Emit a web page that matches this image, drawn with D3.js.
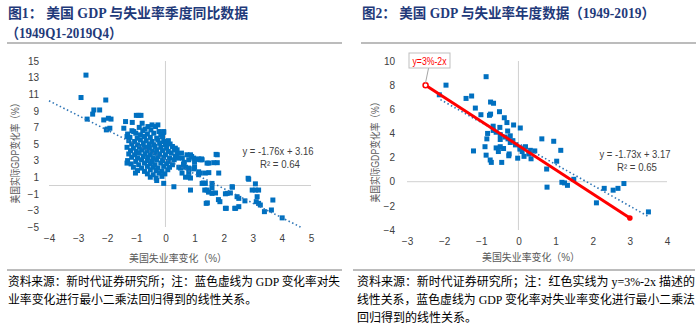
<!DOCTYPE html>
<html><head><meta charset="utf-8">
<script src="https://cdn.jsdelivr.net/npm/d3@7/dist/d3.min.js"></script>
<style>
html,body{margin:0;padding:0;background:#fff;}
svg{display:block;}
</style></head>
<body>
<svg id="c" width="700" height="331"></svg>
<script>
// ---------- DATA ----------
const title1Line1 = "图1：  美国 GDP 与失业率季度同比数据";
const title1Line2 = "（1949Q1-2019Q4）";
const title2 = "图2：  美国 GDP 与失业率年度数据（1949-2019）";
const yTitle = "美国实际GDP变化率（%）";
const xTitle = "美国失业率变化（%）";
const note1 = ["资料来源：新时代证券研究所；注：蓝色虚线为 GDP 变化率对失", "业率变化进行最小二乘法回归得到的线性关系。"];
const note2 = ["资料来源：新时代证券研究所；注：红色实线为 y=3%-2x 描述的", "线性关系，蓝色虚线为 GDP 变化率对失业率变化进行最小二乘法", "回归得到的线性关系。"];

const xTicks1 = [-4,-3,-2,-1,0,1,2,3,4,5];
const yTicks1 = [-5,-3,-1,1,3,5,7,9,11,13,15];
const xTicks2 = [-3,-2,-1,0,1,2,3,4];
const yTicks2 = [-4,-2,0,2,4,6,8,10];

const fit1 = {slope:-1.76, intercept:3.16, r2:0.64, x0:-4, x1:4.64};
const fit2 = {slope:-1.73, intercept:3.17, r2:0.65, x0:-2.1, x1:3.5};
const redLine = {x0:-2.5, x1:3};   // y = 3 - 2x
const redLabel = "y=3%-2x";

// Quarterly points [unemployment change, GDP change]
const quarterly = [
[-2.73,13.3],[-2.9,10.6],[-2.05,10.3],[-2.46,9.1],[-2.26,9.1],[-2.5,8.6],[-2.69,8.0],[-2.12,7.9],[-1.87,8.0],[-1.96,8.1],
[-2.03,6.7],[-1.91,6.9],[-2.0,6.8],[-1.0,8.45],[-0.84,8.45],[-0.92,8.45],[-1.14,7.6],[-0.8,7.5],[-1.37,7.7],[-1.43,6.9],
[-1.09,6.5],[-1.32,5.9],[-0.46,7.3],[-0.26,7.3],[-0.06,6.4],[-0.06,6.5],[0.06,5.1],
[-0.9,7.0],[-0.6,7.1],[-0.34,7.1],[-0.7,6.8],
[-1.15,6.6],[-0.78,6.6],[-0.5,6.7],[-0.22,6.5],
[-1.3,6.2],[-1.02,6.3],[-0.86,6.1],[-0.62,6.2],[-0.4,6.3],[-0.16,6.1],
[-1.22,5.8],[-0.97,5.7],[-0.72,5.9],[-0.52,5.8],[-0.3,5.7],[-0.1,5.9],
[-1.26,5.4],[-1.06,5.3],[-0.86,5.5],[-0.66,5.4],[-0.46,5.3],[-0.26,5.5],[-0.06,5.3],[0.1,5.4],
[-1.16,5.0],[-0.96,4.9],[-0.76,5.1],[-0.56,5.0],[-0.4,4.9],[-0.2,5.1],[0.0,4.9],[0.16,5.0],
[-1.32,4.6],[-1.1,4.5],[-0.9,4.7],[-0.72,4.6],[-0.55,4.5],[-0.36,4.7],[-0.16,4.6],[0.04,4.5],[0.24,4.7],
[-1.2,4.2],[-1.0,4.1],[-0.82,4.3],[-0.64,4.2],[-0.46,4.1],[-0.3,4.3],[-0.1,4.2],[0.1,4.1],[0.3,4.3],
[-1.26,3.8],[-1.06,3.7],[-0.9,3.9],[-0.7,3.8],[-0.52,3.7],[-0.36,3.9],[-0.2,3.8],[0.0,3.7],[0.2,3.9],[0.4,3.8],
[-1.16,3.4],[-0.96,3.3],[-0.76,3.5],[-0.6,3.4],[-0.42,3.3],[-0.26,3.5],[-0.06,3.4],[0.14,3.3],[0.34,3.5],
[-1.3,3.0],[-1.02,2.9],[-0.82,3.1],[-0.62,3.0],[-0.46,2.9],[-0.3,3.1],[-0.1,3.0],[0.1,2.9],[0.3,3.1],
[-1.32,2.7],[-1.18,2.6],[-0.92,2.5],[-0.72,2.7],[-0.52,2.6],[-0.36,2.5],[-0.16,2.7],[0.04,2.6],[0.24,2.5],
[-1.1,2.2],[-0.82,2.1],[-0.62,2.3],[-0.42,2.2],[-0.26,2.1],[-0.06,2.3],[0.14,2.2],
[-0.96,1.8],[-0.72,1.7],[-0.52,1.9],[-0.32,1.8],[-0.12,1.7],[0.08,1.9],
[-1.03,1.5],[-0.62,1.4],[-0.42,1.3],[-0.22,1.5],[-0.02,1.4],
[-0.52,1.0],[-0.32,0.9],[-0.12,1.1],
[-0.06,0.26],[0.29,-0.15],[-0.3,0.6],
[0.34,4.5],[0.4,4.3],[0.58,3.3],[0.74,3.7],[0.86,3.7],[0.8,3.1],[0.52,2.1],[0.46,2.2],[0.69,2.2],[0.57,1.5],[0.8,1.6],
[0.69,1.0],[0.86,0.9],[0.8,1.06],[0.8,2.1],[0.97,2.0],[0.97,3.3],[1.26,3.1],[1.2,1.5],[1.14,1.3],[1.37,1.5],[1.14,1.65],[1.49,1.55],[1.83,1.5],
[1.3,0.3],[1.26,0.25],[1.37,0.25],[1.6,0.25],[0.86,-0.55],[1.35,-0.55],[1.44,-2.1],[1.48,-0.8],[1.6,-0.3],[1.72,-0.9],[1.6,-0.95],
[1.43,-0.55],[1.82,-1.7],[1.87,-1.95],[2.06,-1.0],[2.23,-0.9],[2.12,-0.95],[2.3,-0.2],[2.29,-0.15],[1.4,-2.15],[2.06,-2.75],
[2.38,-2.75],[2.52,-2.55],[2.41,-2.75],[2.09,-2.75],[2.46,-1.35],[2.52,-1.55],[2.73,-1.85],[2.84,0.87],[2.86,0.75],[3.09,0.2],
[2.98,-0.55],[3.09,-0.55],[3.2,-0.55],[3.15,-1.35],[3.12,-1.95],[3.2,-2.15],[3.26,-2.35],[3.69,-1.75],[3.64,-2.95],[4.01,-3.9],[3.4,-3.15],
[1.78,3.7],[1.74,3.75],[1.78,2.75],[1.66,2.75],[1.49,2.7],[1.43,2.7],[1.2,3.1],[1.17,3.15],[1.24,3.2],[1.13,3.2],
[0.9,3.5],[1.0,2.8],[1.0,2.2],[0.65,2.8],[0.45,3.3],[0.55,3.9],[0.62,2.6]
];

// Annual points [unemployment change, GDP change]
const annual = [
[-1.95,8.0],[-0.87,8.7],[-2.13,7.2],[-1.41,6.9],[-1.26,7.1],[-1.16,6.1],[-0.75,6.6],[-0.67,6.5],[-1.01,5.55],[-0.78,5.5],
[-0.75,5.6],[-0.51,5.8],[-0.38,5.3],[-0.31,4.9],[-0.13,4.7],[0.05,4.45],[-0.68,4.6],[-0.5,4.5],[-0.29,4.2],[-0.83,4.0],
[-0.68,4.25],[-0.49,3.9],[-0.22,3.8],[-0.85,3.55],[-0.49,3.5],[-0.28,3.55],[-0.22,3.25],[-0.08,3.05],[0.05,2.8],[0.19,2.9],
[0.32,2.6],[0.44,2.55],[-0.9,2.9],[-0.6,2.8],[-0.49,2.9],[-0.54,2.5],[-1.21,2.55],[-0.87,2.2],[-0.76,1.8],[-0.73,1.6],
[-0.45,1.6],[-0.26,2.15],[-0.25,2.3],[-0.02,1.95],[0.15,2.1],[0.34,1.9],[0.04,2.7],[0.63,3.55],[0.95,3.35],[1.14,2.6],
[1.03,1.7],[0.76,1.05],[0.77,-0.45],[1.17,-0.05],[1.24,-0.1],[1.32,-0.3],[1.49,0.2],[2.1,-1.75],[2.31,-0.55],[2.55,-0.7],
[2.68,-0.55],[2.84,-0.15],[3.5,-2.5],[-0.36,3.7],[-0.6,4.1],[0.1,2.5],[-0.15,3.4],[-0.4,2.75],[0.28,2.3]
];

// ---------- DRAW ----------
const svg = d3.select("#c");
const NAVY = "#1f3a7a", GRAY_LINE = "#a6a6a6", AX = "#d0d0d0", PT = "#0070c0", TXT = "#404040";
const serif = "'Liberation Serif','Noto Sans CJK SC',serif";
const sans = "'Liberation Sans','Noto Sans CJK SC',sans-serif";

function txt(x, y, s, opt) {
  const t = svg.append("text").attr("x", x).attr("y", y).text(s)
    .attr("font-family", opt.family || serif).attr("font-size", opt.size || 12)
    .attr("fill", opt.fill || "#000").attr("dominant-baseline", "central");
  if (opt.weight) t.attr("font-weight", opt.weight);
  if (opt.anchor) t.attr("text-anchor", opt.anchor);
  if (opt.len) t.attr("textLength", opt.len).attr("lengthAdjust", "spacingAndGlyphs");
  return t;
}

// titles
txt(8, 13, title1Line1, {size:14, weight:"bold", fill:NAVY, len:240});
txt(6, 33, title1Line2, {size:14, weight:"bold", fill:NAVY, len:116});
txt(362, 13, title2, {size:14, weight:"bold", fill:NAVY, len:293});
svg.append("line").attr("x1",7).attr("x2",342).attr("y1",43).attr("y2",43).attr("stroke",GRAY_LINE).attr("stroke-width",1.5);
svg.append("line").attr("x1",361).attr("x2",696).attr("y1",43).attr("y2",43).attr("stroke",GRAY_LINE).attr("stroke-width",1.5);
svg.append("line").attr("x1",7).attr("x2",342).attr("y1",270).attr("y2",270).attr("stroke",GRAY_LINE).attr("stroke-width",1.5);
svg.append("line").attr("x1",353).attr("x2",695).attr("y1",270).attr("y2",270).attr("stroke",GRAY_LINE).attr("stroke-width",1.5);

// footnotes
txt(8, 282, note1[0], {size:12, len:332});
txt(8, 300, note1[1], {size:12, len:249});
txt(357, 282, note2[0], {size:12, len:338});
txt(357, 300, note2[1], {size:12, len:338});
txt(357, 318, note2[2], {size:12, len:120});

function panel(cfg) {
  const x = d3.scaleLinear().domain(cfg.xd).range(cfg.xr);
  const y = d3.scaleLinear().domain(cfg.yd).range(cfg.yr);
  const g = svg.append("g");
  // zero lines
  g.append("line").attr("x1", x(cfg.xd[0])).attr("x2", x(cfg.xd[1])).attr("y1", y(0)).attr("y2", y(0)).attr("stroke", AX).attr("stroke-width", 1);
  g.append("line").attr("x1", x(0)).attr("x2", x(0)).attr("y1", y(cfg.yd[0])).attr("y2", y(cfg.yd[1])).attr("stroke", AX).attr("stroke-width", 1);
  // axes
  const ax = g.append("g").attr("transform", `translate(0,${y(cfg.yd[0])})`)
    .call(d3.axisBottom(x).tickValues(cfg.xt).tickSize(0).tickPadding(cfg.xpad).tickFormat(d3.format("d")));
  const ay = g.append("g").attr("transform", `translate(${x(cfg.xd[0])},0)`)
    .call(d3.axisLeft(y).tickValues(cfg.yt).tickSize(0).tickPadding(cfg.ypad).tickFormat(d3.format("d")));
  [ax, ay].forEach(a => {
    a.select(".domain").remove();
    a.selectAll("text").attr("font-family", sans).attr("font-size", 10).attr("fill", TXT);
  });
  // axis titles
  txt(cfg.ytx, cfg.yty, yTitle, {family:sans, size:10.5, fill:"#595959", anchor:"middle", len:105})
    .attr("transform", `rotate(-90,${cfg.ytx},${cfg.yty})`);
  txt(cfg.xtx, cfg.xty, xTitle, {family:sans, size:10.5, fill:"#595959", anchor:"middle", len:98});
  return {x, y, g};
}

// Panel 1
const p1 = panel({xd:[-4,5], xr:[49,311], yd:[-5,15], yr:[227,61], xt:xTicks1, yt:yTicks1,
  xpad:8, ypad:10, ytx:15, yty:151, xtx:178, xty:258});
const sq1 = 5;
p1.g.append("g").selectAll("rect").data(quarterly).join("rect")
  .attr("x", d => p1.x(d[0]) - sq1/2).attr("y", d => p1.y(d[1]) - sq1/2)
  .attr("width", sq1).attr("height", sq1).attr("fill", PT);
p1.g.append("line")
  .attr("x1", p1.x(fit1.x0)).attr("y1", p1.y(fit1.slope*fit1.x0 + fit1.intercept))
  .attr("x2", p1.x(fit1.x1)).attr("y2", p1.y(fit1.slope*fit1.x1 + fit1.intercept))
  .attr("stroke", "#2e75b6").attr("stroke-width", 1.6).attr("stroke-dasharray", "1.5,2.5");
txt(278, 151, `y = ${fit1.slope}x + ${fit1.intercept}`, {family:sans, size:10, fill:TXT, anchor:"middle", len:71});
txt(280, 164, `R² = ${fit1.r2}`, {family:sans, size:10, fill:TXT, anchor:"middle", len:40});

// Panel 2
const p2 = panel({xd:[-3,4], xr:[407,667], yd:[-4,10], yr:[230,61], xt:xTicks2, yt:yTicks2,
  xpad:8, ypad:12, ytx:375, yty:150, xtx:531, xty:257});
const sq2 = 5;
p2.g.append("g").selectAll("rect").data(annual).join("rect")
  .attr("x", d => p2.x(d[0]) - sq2/2).attr("y", d => p2.y(d[1]) - sq2/2)
  .attr("width", sq2).attr("height", sq2).attr("fill", PT);
p2.g.append("line")
  .attr("x1", p2.x(fit2.x0)).attr("y1", p2.y(fit2.slope*fit2.x0 + fit2.intercept))
  .attr("x2", p2.x(fit2.x1)).attr("y2", p2.y(fit2.slope*fit2.x1 + fit2.intercept))
  .attr("stroke", "#2e75b6").attr("stroke-width", 1.6).attr("stroke-dasharray", "1.5,2.5");
const ry = v => 3 - 2*v;
p2.g.append("line")
  .attr("x1", p2.x(redLine.x0)).attr("y1", p2.y(ry(redLine.x0)))
  .attr("x2", p2.x(redLine.x1)).attr("y2", p2.y(ry(redLine.x1)))
  .attr("stroke", "#ff0000").attr("stroke-width", 3);
p2.g.append("circle").attr("cx", p2.x(redLine.x0)).attr("cy", p2.y(ry(redLine.x0))).attr("r", 2.5)
  .attr("fill", "#fff").attr("stroke", "#ff0000").attr("stroke-width", 1.5);
p2.g.append("circle").attr("cx", p2.x(redLine.x1)).attr("cy", p2.y(ry(redLine.x1))).attr("r", 2.8)
  .attr("fill", "#ff0000");
// label box + leader
const lx = p2.x(redLine.x0), ly = p2.y(ry(redLine.x0));
p2.g.append("line").attr("x1", lx + 3).attr("y1", 68).attr("x2", lx).attr("y2", ly - 2.5).attr("stroke", "#a6a6a6").attr("stroke-width", 1);
p2.g.append("rect").attr("x", 409).attr("y", 53).attr("width", 41).attr("height", 15)
  .attr("fill", "#fff").attr("stroke", "#bfbfbf").attr("stroke-width", 1);
txt(429.5, 61, redLabel, {family:sans, size:10, fill:"#ff0000", anchor:"middle", len:34});
txt(635, 154, `y = ${fit2.slope}x + ${fit2.intercept}`, {family:sans, size:10, fill:TXT, anchor:"middle", len:71});
txt(637, 167, `R² = ${fit2.r2}`, {family:sans, size:10, fill:TXT, anchor:"middle", len:40});
</script>
</body></html>
